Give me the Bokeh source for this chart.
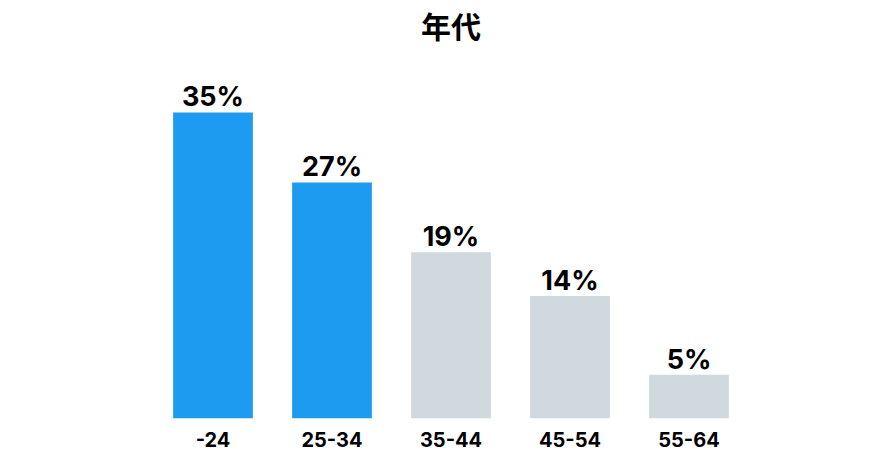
from bokeh.plotting import figure
from bokeh.models import ColumnDataSource, LabelSet, Label, FactorRange, Range1d
from bokeh.core.properties import value
from bokeh.embed import file_html
from bokeh.resources import INLINE

title_text = "年代"
categories = ["-24", "25-34", "35-44", "45-54", "55-64"]
values = [35, 27, 19, 14, 5]
labels = [f"{v}%" for v in values]
highlighted = ["-24", "25-34"]

BLUE = "#1D9BF0"
GREY = "#CFD9DE"
FONT = "Inter"
colors = [BLUE if c in highlighted else GREY for c in categories]

source = ColumnDataSource(dict(cat=categories, val=values, lab=labels, col=colors))

# frame spans the full height down to the bar baseline; ~8.75 px per percent
Y_TOP = 47.8
p = figure(width=878, height=454, x_range=FactorRange(*categories, range_padding=0),
           y_range=Range1d(0, Y_TOP), output_backend="svg", toolbar_location=None,
           min_border_left=153, min_border_right=130, min_border_top=0, min_border_bottom=36)
p.outline_line_color = None
p.xgrid.visible = False
p.ygrid.visible = False
p.yaxis.visible = False
p.background_fill_color = "white"
p.border_fill_color = "white"

p.vbar(x="cat", top="val", width=0.67, source=source, fill_color="col", line_color=None)

p.add_layout(LabelSet(x="cat", y="val", text="lab", source=source, y_offset=6,
                      text_align="center", text_baseline="alphabetic",
                      text_font=value(FONT), text_font_style=value("bold"),
                      text_font_size=value("27px"), text_color=value("#000000")))

# chart title, centred over the category axis
p.add_layout(Label(x=len(categories) / 2, y=Y_TOP, y_offset=-24, text=title_text,
                   text_align="center", text_baseline="middle",
                   text_font="Noto Sans CJK JP", text_font_style="bold",
                   text_font_size="30px", text_color="#000000"))

ax = p.xaxis[0]
ax.axis_line_color = None
ax.major_tick_line_color = None
ax.minor_tick_line_color = None
ax.major_tick_out = 0
ax.major_tick_in = 0
ax.major_label_standoff = 13
ax.major_label_text_font = FONT
ax.major_label_text_font_style = "bold"
ax.major_label_text_font_size = "20px"
ax.major_label_text_color = "#000000"

open("out.html", "w").write(file_html(p, INLINE))
